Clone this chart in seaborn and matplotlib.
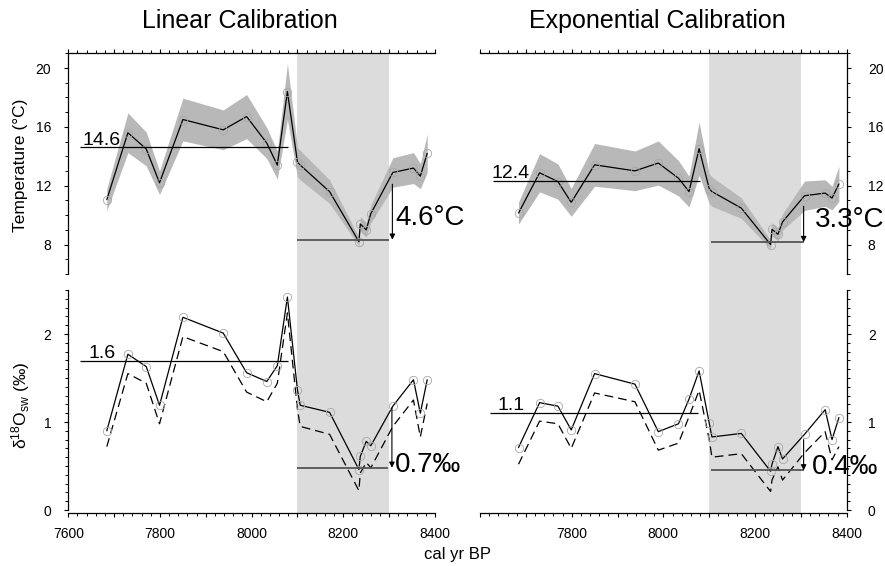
import numpy as np
import pandas as pd
import matplotlib
matplotlib.use("Agg")
import matplotlib.pyplot as plt
import seaborn as sns
from matplotlib.ticker import MultipleLocator, FuncFormatter

sns.set_style("ticks")
plt.rcParams["font.family"] = ["Liberation Sans", "DejaVu Sans"]
plt.rcParams["mathtext.fontset"] = "custom"
plt.rcParams["mathtext.rm"] = "Liberation Sans"
plt.rcParams["mathtext.it"] = "Liberation Sans:italic"
plt.rcParams["mathtext.bf"] = "Liberation Sans:bold"
plt.rcParams["text.color"] = "k"
plt.rcParams["axes.labelcolor"] = "k"
plt.rcParams["xtick.color"] = "k"
plt.rcParams["ytick.color"] = "k"
plt.rcParams["xtick.labelcolor"] = "k"
plt.rcParams["ytick.labelcolor"] = "k"

# ---------------- data ----------------
years = [7684, 7730, 7770, 7799, 7850, 7938, 7989, 8033, 8056, 8078, 8100,
         8106, 8170, 8234, 8237, 8250, 8260, 8308, 8353, 8368, 8383]

lin_temp = [11.05, 15.6, 14.5, 12.2, 16.5, 15.8, 16.7, 14.9, 13.4, 18.4, 13.6,
            13.4, 11.6, 8.2, 9.4, 9.0, 10.1, 12.9, 13.2, 12.65, 14.2]
lin_err = [0.75, 1.35, 1.15, 0.8, 1.45, 1.35, 1.5, 1.05, 0.95, 1.9, 1.0,
           1.0, 0.8, 0.3, 0.5, 0.5, 0.6, 1.0, 1.05, 0.85, 1.3]

exp_temp = [10.14, 12.88, 12.28, 10.87, 13.42, 13.01, 13.54, 12.51, 11.6, 14.52, 11.8,
            11.6, 10.48, 8.0, 9.04, 8.7, 9.54, 11.32, 11.5, 11.16, 12.12]
exp_err = [0.75, 1.3, 1.2, 0.95, 1.45, 1.35, 1.5, 1.2, 1.05, 1.8, 1.0,
           1.0, 0.7, 0.3, 0.45, 0.45, 0.55, 1.0, 0.9, 0.8, 1.2]

lin_d18o = [0.90, 1.77, 1.63, 1.19, 2.19, 2.01, 1.56, 1.46, 1.64, 2.42, 1.36,
            1.19, 1.11, 0.46, 0.61, 0.78, 0.73, 1.18, 1.48, 1.10, 1.48]
lin_d18o_alt = [0.72, 1.55, 1.44, 0.98, 1.97, 1.80, 1.34, 1.23, 1.44, 2.24, 1.14,
                0.95, 0.86, 0.22, 0.42, 0.54, 0.48, 0.95, 1.25, 0.83, 1.21]

exp_d18o = [0.71, 1.22, 1.18, 0.91, 1.55, 1.43, 0.89, 0.98, 1.26, 1.58, 0.99,
            0.83, 0.87, 0.44, 0.52, 0.72, 0.58, 0.86, 1.14, 0.80, 1.05]
exp_d18o_alt = [0.52, 1.01, 0.98, 0.70, 1.33, 1.23, 0.68, 0.76, 1.06, 1.36, 0.80,
                0.60, 0.64, 0.21, 0.34, 0.49, 0.34, 0.65, 0.89, 0.57, 0.72]

event_span = [8100, 8300]
# reference levels: [pre-event mean, event level, arrow start]
lin_temp_levels = [14.65, 8.33, 12.1]
exp_temp_levels = [12.35, 8.17, 10.6]
lin_d18o_levels = [1.69, 0.48, 1.16]
exp_d18o_levels = [1.10, 0.45, 0.80]
mean_labels = ["14.6", "12.4", "1.6", "1.1"]
delta_labels = ["4.6°C", "3.3°C", "0.7‰", "0.4‰"]
titles = ["Linear Calibration", "Exponential Calibration"]

df = pd.DataFrame({"year": years, "lin_temp": lin_temp, "lin_err": lin_err,
                   "exp_temp": exp_temp, "exp_err": exp_err,
                   "lin_d18o": lin_d18o, "lin_d18o_alt": lin_d18o_alt,
                   "exp_d18o": exp_d18o, "exp_d18o_alt": exp_d18o_alt})

# ---------------- layout ----------------
W, H = 885, 566
fig = plt.figure(figsize=(W / 100, H / 100), dpi=100)

def fx(px):
    return px / W

def fy(py):
    return 1 - py / H

axw = 366.7 / W
xl = [68.3, 480.0]
top_ax = [fig.add_axes([fx(x0), fy(282), axw, (282 - 53.3) / H]) for x0 in xl]
bot_ax = [fig.add_axes([fx(x0), fy(513), axw, (513 - 282) / H]) for x0 in xl]

tppu = (274 - 53.3) / 15.0
top_ylim = (21 - (282 - 53.3) / tppu, 21)
bot_ylim = (-(513 - 510) / 88.0, 2.5 + (290 - 282) / 88.0)

band_c = "#b8b8b8"
span_c = "#dcdcdc"
circ_c = "#a8a8a8"
LW = 0.9
MS = 6

def style_common(ax):
    ax.set_xlim(7600, 8400)
    ax.axvspan(*event_span, color=span_c, lw=0, zorder=0)
    ax.xaxis.set_major_locator(MultipleLocator(100))
    ax.xaxis.set_minor_locator(MultipleLocator(20))
    ax.tick_params(which="major", direction="out", length=3.2, width=0.8, color="k")
    ax.tick_params(which="minor", direction="out", length=2.0, width=0.7, color="k")
    for s in ax.spines.values():
        s.set_linewidth(0.9)
        s.set_color("k")
    ax.patch.set_alpha(0)

# temperature panels
for i, ax in enumerate(top_ax):
    style_common(ax)
    t = "lin_temp" if i == 0 else "exp_temp"
    e = "lin_err" if i == 0 else "exp_err"
    ax.fill_between(df["year"], df[t] - df[e], df[t] + df[e], color=band_c, lw=0, zorder=1)
    sns.lineplot(data=df, x="year", y=t, ax=ax, color="k", lw=LW, zorder=3,
                 marker="o", markersize=MS, markerfacecolor="none",
                 markeredgecolor=circ_c, markeredgewidth=0.6)
    ax.set_ylim(*top_ylim)
    ax.yaxis.set_major_locator(MultipleLocator(4))
    ax.yaxis.set_minor_locator(MultipleLocator(1))
    ax.xaxis.tick_top()
    ax.tick_params(axis="x", which="both", labeltop=False, labelbottom=False)
    ax.spines["bottom"].set_visible(False)
    if i == 0:
        ax.spines["right"].set_visible(False)
        ax.spines["left"].set_bounds(6, 21)
        ax.tick_params(axis="y", which="both", left=True, right=False, labelsize=10, pad=9)
    else:
        ax.spines["left"].set_visible(False)
        ax.spines["right"].set_bounds(6, 21)
        ax.yaxis.tick_right()
        ax.tick_params(axis="y", which="both", labelsize=10, pad=12)
    ax.set_ylabel("")
    ax.set_xlabel("")

# d18O panels
for i, ax in enumerate(bot_ax):
    style_common(ax)
    s = "lin_d18o" if i == 0 else "exp_d18o"
    a = "lin_d18o_alt" if i == 0 else "exp_d18o_alt"
    sns.lineplot(data=df, x="year", y=a, ax=ax, color="k", lw=LW, zorder=2,
                 linestyle=(0, (7, 4)))
    sns.lineplot(data=df, x="year", y=s, ax=ax, color="k", lw=LW, zorder=3,
                 marker="o", markersize=MS, markerfacecolor="none",
                 markeredgecolor=circ_c, markeredgewidth=0.6)
    ax.set_ylim(*bot_ylim)
    ax.yaxis.set_major_locator(MultipleLocator(1))
    ax.yaxis.set_minor_locator(MultipleLocator(0.1))
    ax.spines["top"].set_visible(False)
    if i == 0:
        ax.spines["right"].set_visible(False)
        ax.spines["left"].set_bounds(0, 2.5)
        ax.tick_params(axis="y", which="both", labelsize=10, pad=9)
        fmt = FuncFormatter(lambda v, p: f"{int(round(v))}" if round(v) % 200 == 0 else "")
    else:
        ax.spines["left"].set_visible(False)
        ax.spines["right"].set_bounds(0, 2.5)
        ax.yaxis.tick_right()
        ax.tick_params(axis="y", which="both", labelsize=10, pad=12)
        fmt = FuncFormatter(lambda v, p: f"{int(round(v))}" if (round(v) % 200 == 0 and round(v) != 7600) else "")
    ax.xaxis.set_major_formatter(fmt)
    ax.tick_params(axis="x", labelsize=10, pad=7)
    ax.set_ylabel("")
    ax.set_xlabel("")

# reference lines, arrows and labels
panels = [
    (top_ax[0], lin_temp_levels, mean_labels[0], delta_labels[0], (7626, 8079), (8100, 8300), 8307, (7630, 14.8), (8313, 9.8)),
    (top_ax[1], exp_temp_levels, mean_labels[1], delta_labels[1], (7629, 8080), (8105, 8306), 8306, (7625, 12.5), (8331, 9.7)),
    (bot_ax[0], lin_d18o_levels, mean_labels[2], delta_labels[2], (7626, 8080), (8100, 8298), 8306, (7643, 1.73), (8313, 0.51)),
    (bot_ax[1], exp_d18o_levels, mean_labels[3], delta_labels[3], (7622, 8076), (8103, 8306), 8306, (7639, 1.14), (8324, 0.49)),
]
for ax, lv, ml, dl, mspan, espan, ax_x, mpos, dpos in panels:
    ax.hlines(lv[0], *mspan, color="k", lw=0.9, zorder=4)
    ax.hlines(lv[1], *espan, color="#555555", lw=1.3, zorder=4)
    ax.annotate("", xy=(ax_x, lv[1]), xytext=(ax_x, lv[2]),
                arrowprops=dict(arrowstyle="-|>", color="k", lw=0.8,
                                mutation_scale=8, shrinkA=0, shrinkB=0), zorder=5)
    ax.text(mpos[0], mpos[1], ml, fontsize=14, ha="left", va="baseline", zorder=5)
    ax.text(dpos[0], dpos[1], dl, fontsize=20, ha="left", va="center", zorder=6, clip_on=False)

# titles and axis labels
fig.text(fx(240), fy(21), titles[0], fontsize=18, ha="center", va="center")
fig.text(fx(657), fy(21), titles[1], fontsize=18, ha="center", va="center")
fig.text(fx(21), fy(165), "Temperature (°C)", fontsize=12.5, rotation=90, ha="center", va="center")
fig.text(fx(21), fy(405), r"δ$^{18}$O$_{\mathrm{sw}}$ (‰)", fontsize=12.5, rotation=90, ha="center", va="center")
fig.text(fx(457), fy(555), "cal yr BP", fontsize=12, ha="center", va="center")

fig.savefig("out.png", dpi=100)
